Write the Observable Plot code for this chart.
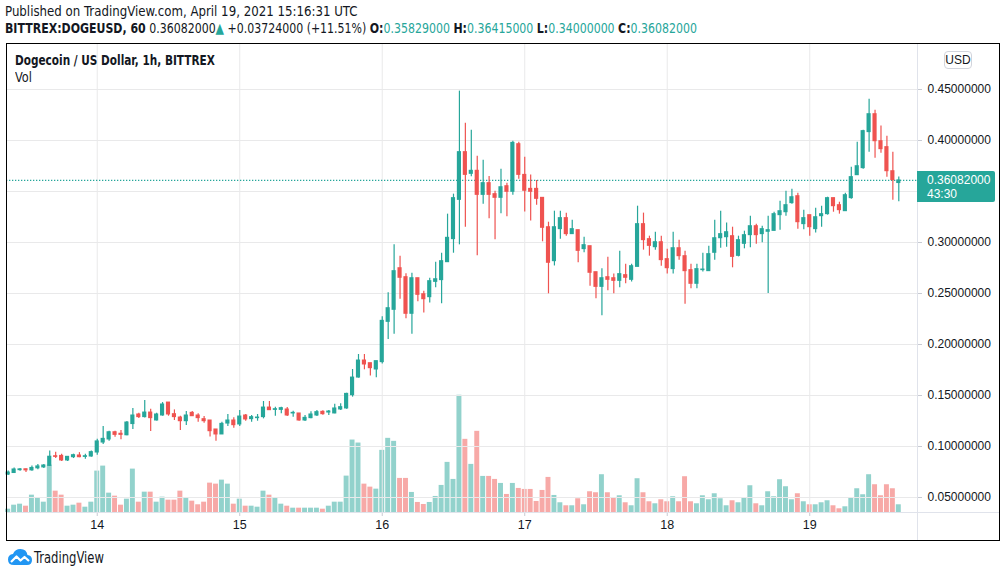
<!DOCTYPE html>
<html><head><meta charset="utf-8">
<script src="https://cdn.jsdelivr.net/npm/d3@7"></script>
<script src="https://cdn.jsdelivr.net/npm/@observablehq/plot@0.6"></script>
<style>
html,body{margin:0;padding:0;background:#fff;}
body{width:1006px;height:577px;overflow:hidden;position:relative;color:#131722;
 font-family:"DejaVu Sans Condensed","Liberation Sans",sans-serif;}
.abs{position:absolute;}
.layer{position:absolute;left:0;top:0;}
.sq{transform-origin:0 0;}
#hdr1{left:5px;top:3px;font-size:14.5px;white-space:nowrap;transform:scaleX(0.905);}
#hdr2{left:5px;top:20px;font-size:14.5px;white-space:nowrap;transform:scaleX(0.842);}
#hdr2 b{font-weight:bold;}
#hdr2 .v{color:#26a69a;}
#frame{left:6px;top:43px;width:992px;height:496px;border:1.5px solid #000;box-sizing:content-box;}
#vsep{left:917px;top:44px;width:1px;height:496px;background:#e0e3eb;}
#hsep{left:7px;top:512px;width:992px;height:1px;background:#e0e3eb;}
#title{left:15px;top:52px;font-size:14px;font-weight:bold;white-space:nowrap;transform:scaleX(0.835);}
#vol{left:15px;top:69px;font-size:14px;white-space:nowrap;transform:scaleX(0.9);}
#usd{left:944px;top:51px;width:26px;height:16px;border:1px solid #d1d4dc;border-radius:4px;font-size:12px;line-height:16px;text-align:center;font-family:"Liberation Sans",sans-serif;}
#last{left:917px;width:78px;height:31px;background:#26a69a;color:#fff;border-radius:0 2px 2px 0;font-size:12px;font-family:"Liberation Sans",sans-serif;}
#last div{position:absolute;left:10px;}
#logo{left:7px;top:548px;}
#logotxt{left:34px;top:549px;font-size:15px;white-space:nowrap;transform:scaleX(0.86);}
</style></head><body>
<div id="chart"></div>
<script>
// ---- data (hourly candles, BITTREX DOGE/USD, from 2021-04-13 09:00 UTC) ----
const startHour = "2021-04-13T09:00:00Z";
const open = [0.0725,0.0740,0.0768,0.0777,0.0766,0.0786,0.0795,0.0810,0.0905,0.0908,
0.0863,0.0895,0.0912,0.0898,0.0902,0.0941,0.1039,0.1069,0.1140,0.1125,
0.1110,0.1220,0.1314,0.1288,0.1333,0.1255,0.1304,0.1431,0.1317,0.1284,
0.1248,0.1330,0.1304,0.1268,0.1255,0.1167,0.1118,0.1225,0.1255,0.1216,
0.1304,0.1268,0.1278,0.1288,0.1382,0.1359,0.1359,0.1363,0.1324,0.1324,
0.1255,0.1278,0.1304,0.1340,0.1333,0.1324,0.1363,0.1373,0.1503,0.1676,
0.1843,0.1817,0.1755,0.1827,0.2222,0.2340,0.2748,0.2660,0.2301,0.2650,
0.2493,0.2464,0.2614,0.2631,0.2807,0.3033,0.3418,0.3886,0.3673,0.3703,
0.3467,0.3582,0.3474,0.3438,0.3552,0.3497,0.3964,0.3663,0.3526,0.3526,
0.3438,0.3150,0.2817,0.3131,0.3239,0.3082,0.3121,0.2935,0.2964,0.2709,
0.2565,0.2660,0.2650,0.2624,0.2680,0.2634,0.2761,0.3180,0.3033,0.2954,
0.3003,0.2837,0.2739,0.2944,0.2866,0.2729,0.2595,0.2729,0.2719,0.2899,
0.3042,0.3052,0.3062,0.2869,0.2987,0.3072,0.3160,0.3082,0.3105,0.3114,
0.3268,0.3297,0.3386,0.3454,0.3180,0.3268,0.3131,0.3258,0.3278,0.3435,
0.3366,0.3307,0.3435,0.3660,0.3729,0.4082,0.4258,0.3993,0.3935,0.3699,
0.35829];
const high = [0.0760,0.0790,0.0785,0.0779,0.0810,0.0823,0.0823,0.0955,0.0944,0.0925,
0.0900,0.0925,0.0940,0.0925,0.0955,0.1070,0.1196,0.1150,0.1150,0.1157,
0.1245,0.1373,0.1327,0.1451,0.1366,0.1327,0.1431,0.1431,0.1359,0.1297,
0.1343,0.1343,0.1320,0.1294,0.1255,0.1167,0.1239,0.1314,0.1281,0.1353,
0.1314,0.1304,0.1314,0.1441,0.1441,0.1386,0.1386,0.1382,0.1346,0.1324,
0.1304,0.1340,0.1353,0.1350,0.1353,0.1415,0.1418,0.1523,0.1755,0.1902,
0.1902,0.1817,0.1837,0.2271,0.2507,0.2977,0.2866,0.2693,0.2699,0.2650,
0.2523,0.2650,0.2807,0.2895,0.3278,0.3474,0.4484,0.4170,0.4101,0.3846,
0.3807,0.3647,0.3503,0.3719,0.3582,0.3993,0.3984,0.3837,0.3663,0.3608,
0.3438,0.3199,0.3307,0.3307,0.3288,0.3219,0.3121,0.3052,0.2964,0.2709,
0.2742,0.2856,0.2690,0.2915,0.2788,0.2788,0.3356,0.3288,0.3062,0.3101,
0.3062,0.2935,0.3101,0.3023,0.2915,0.2788,0.2788,0.2895,0.2964,0.3219,
0.3307,0.3190,0.3150,0.3062,0.3111,0.3258,0.3180,0.3160,0.3258,0.3297,
0.3405,0.3503,0.3523,0.3484,0.3317,0.3268,0.3337,0.3356,0.3444,0.3435,
0.3395,0.3484,0.3739,0.3984,0.4101,0.4405,0.4297,0.4141,0.4042,0.3886,
0.36415];
const low = [0.0715,0.0735,0.0758,0.0745,0.0758,0.0772,0.0784,0.0804,0.0882,0.0853,
0.0853,0.0882,0.0890,0.0876,0.0895,0.0915,0.1020,0.1052,0.1090,0.1066,
0.1105,0.1167,0.1275,0.1280,0.1147,0.1250,0.1297,0.1297,0.1255,0.1157,
0.1206,0.1294,0.1239,0.1229,0.1092,0.1052,0.1118,0.1196,0.1180,0.1196,
0.1248,0.1239,0.1248,0.1271,0.1356,0.1297,0.1320,0.1294,0.1288,0.1248,
0.1245,0.1271,0.1294,0.1307,0.1304,0.1320,0.1353,0.1366,0.1484,0.1670,
0.1752,0.1690,0.1673,0.1810,0.2050,0.2101,0.2444,0.2252,0.2101,0.2418,
0.2310,0.2408,0.2556,0.2399,0.2807,0.2895,0.2977,0.3150,0.3644,0.2869,
0.3376,0.3232,0.3026,0.3281,0.3252,0.3464,0.3621,0.3300,0.3212,0.3366,
0.3007,0.2497,0.2770,0.3033,0.3062,0.3082,0.2801,0.2899,0.2572,0.2448,
0.2281,0.2526,0.2497,0.2556,0.2595,0.2614,0.2761,0.2925,0.2866,0.2925,
0.2768,0.2690,0.2690,0.2827,0.2395,0.2546,0.2546,0.2712,0.2719,0.2827,
0.2944,0.2954,0.2752,0.2859,0.2938,0.2948,0.2984,0.2997,0.2500,0.3114,
0.3121,0.3258,0.3376,0.3131,0.3124,0.3062,0.3092,0.3150,0.3268,0.3297,
0.3278,0.3307,0.3425,0.3660,0.3719,0.3886,0.3827,0.3876,0.3640,0.3415,
0.3400];
const close = [0.0745,0.0775,0.0776,0.0766,0.0790,0.0805,0.0814,0.0900,0.0898,0.0863,
0.0899,0.0915,0.0895,0.0905,0.0945,0.1050,0.1075,0.1140,0.1114,0.1114,
0.1235,0.1304,0.1288,0.1333,0.1278,0.1314,0.1412,0.1314,0.1288,0.1248,
0.1304,0.1297,0.1278,0.1248,0.1150,0.1118,0.1222,0.1255,0.1209,0.1294,
0.1265,0.1288,0.1284,0.1382,0.1356,0.1366,0.1376,0.1304,0.1330,0.1255,
0.1281,0.1314,0.1337,0.1317,0.1343,0.1373,0.1386,0.1516,0.1676,0.1843,
0.1804,0.1768,0.1837,0.2232,0.2356,0.2719,0.2654,0.2301,0.2650,0.2487,
0.2444,0.2621,0.2640,0.2817,0.3046,0.3435,0.3886,0.3663,0.3703,0.3467,
0.3582,0.3467,0.3438,0.3542,0.3497,0.3977,0.3663,0.3507,0.3497,0.3428,
0.3144,0.2801,0.3150,0.3239,0.3082,0.3131,0.2918,0.2974,0.2703,0.2565,
0.2650,0.2634,0.2624,0.2690,0.2654,0.2768,0.3180,0.3023,0.2967,0.3003,
0.2827,0.2748,0.2944,0.2866,0.2719,0.2595,0.2739,0.2735,0.2886,0.3042,
0.3082,0.3101,0.2859,0.3023,0.3072,0.3160,0.3072,0.3131,0.3121,0.3278,
0.3307,0.3366,0.3444,0.3199,0.3239,0.3150,0.3248,0.3278,0.3435,0.3356,
0.3317,0.3464,0.3641,0.3748,0.4092,0.4258,0.3993,0.3915,0.3699,0.3611,
0.36082];
const volume = [3.3,7.3,8.3,6.3,17.3,14.3,10.3,47.3,21.3,17.3,
6.3,7.3,9.3,5.3,10.3,41.3,46.3,19.3,16.3,7.3,
13.3,43.3,10.3,20.3,20.3,10.3,15.3,12.3,12.3,21.3,
14.3,11.3,7.7,10.3,29.3,28.3,32.3,28.3,8.3,13.3,
6.3,6.3,5.3,21.3,17.3,14.3,8.3,6.3,4.3,4.3,
4.3,4.3,4.3,3.3,6.3,10.3,10.3,36.3,72.3,69.3,
28.3,25.3,23.3,62,74,71,34,34,20,10,
8,10,16,27,50,33,117,73,48,81,
36,36,33,29,18,29,24,23,23,11,
22,35,17,9.7,6.7,6.7,13.7,7.7,20.7,19.7,
37.7,19.7,14.7,16.7,9.7,6.7,33.7,19.7,10.7,8.7,
12.7,10.7,15.7,10.7,35.7,10.7,8.7,16.7,12.7,18.7,
13.7,6.7,11.7,9.7,14.7,26.7,8.7,6.7,20.7,15.7,
32.7,25.7,12.7,18.7,10.7,7.7,7.7,9.7,11.7,6.7,
3.7,5.7,14.7,23.7,17.7,37.7,27.7,16.7,27.7,23.7,
7.7];
const priceGrid = [0.05,0.10,0.15,0.20,0.25,0.30,0.35,0.40,0.45];
const priceLabels = [0.05,0.10,0.15,0.20,0.25,0.30,0.40,0.45];
const dayTicks = ["2021-04-14","2021-04-15","2021-04-16","2021-04-17","2021-04-18","2021-04-19"];
const xDomain = ["2021-04-13T08:43:00Z","2021-04-19T18:09:00Z"];
const yDomain = [0.0353,0.4951];
const countdown = "43:30";

// ---- build ----
const UP = "#26a69a", DOWN = "#ef5350";
const UPV = "rgba(38,166,154,0.5)", DOWNV = "rgba(239,83,80,0.5)";
const t0 = new Date(startHour);
const rows = open.map((o,i)=>({t:d3.utcHour.offset(t0,i),o,h:high[i],l:low[i],c:close[i],v:volume[i]}));
const days = dayTicks.map(d=>new Date(d+"T00:00:00Z"));
const xd = xDomain.map(d=>new Date(d));
const shift = (d,m)=>new Date(+d + m*60000);
const col = d=>d.c>=d.o?UP:DOWN;
const common = {width:1006,height:577,marginTop:43,marginBottom:65,marginLeft:6,marginRight:89,
  style:{background:"transparent",overflow:"visible",fontFamily:"'Liberation Sans',Arial,sans-serif"}};

const volPlot = Plot.plot({...common,
  x:{type:"utc",domain:xd,axis:null},
  y:{domain:[0,d3.max(volume)*4],axis:null},
  marks:[
    Plot.rect(rows,{x1:d=>shift(d.t,-25),x2:d=>shift(d.t,25),y1:0,y2:"v",fill:d=>d.c>=d.o?UPV:DOWNV})
  ]});

const pricePlot = Plot.plot({...common,
  x:{type:"utc",domain:xd,axis:null},
  y:{domain:yDomain,axis:null},
  marks:[
    Plot.gridY(priceGrid,{stroke:"#e9e9ea",strokeOpacity:1}),
    Plot.gridX(days,{stroke:"#e9e9ea",strokeOpacity:1}),
    Plot.axisY(priceLabels,{anchor:"right",label:null,tickFormat:d3.format(".8f"),tickSize:4,tickPadding:6,
      fontSize:12,stroke:"#c8cbd3",fill:"#131722"}),
    Plot.axisX(days,{anchor:"bottom",label:null,tickFormat:d3.utcFormat("%-d"),tickSize:4,tickPadding:4,
      fontSize:12.5,stroke:"#c8cbd3",fill:"#131722"}),
    Plot.ruleY([close[close.length-1]],{stroke:UP,strokeDasharray:"1.3,1.7",strokeWidth:1.2}),
    Plot.ruleX(rows,{x:"t",y1:"l",y2:"h",stroke:col,strokeWidth:1.2}),
    Plot.rect(rows,{x1:d=>shift(d.t,-21),x2:d=>shift(d.t,21),y1:"o",y2:"c",fill:col,insetTop:-0.5,insetBottom:-0.5})
  ]});

const chart = document.getElementById("chart");
volPlot.classList.add("layer"); pricePlot.classList.add("layer");
chart.appendChild(volPlot); chart.appendChild(pricePlot);

const fmt = d3.format(".8f");
const last = rows[rows.length-1], prevClose = 0.32358;
const html = (tag,id,inner,cls="")=>{const e=document.createElement(tag);e.id=id;e.className="abs "+cls;e.innerHTML=inner;document.body.appendChild(e);return e;};
html("div","hdr1","Published on TradingView.com, April 19, 2021 15:16:31 UTC","sq");
html("div","hdr2",`<b>BITTREX:DOGEUSD, 60</b> ${fmt(last.c)}<span class="v">&#9650;</span> +${fmt(last.c-prevClose)} (+${d3.format(".2f")((last.c-prevClose)/prevClose*100)}%) <b>O:</b><span class="v">${fmt(last.o)}</span> <b>H:</b><span class="v">${fmt(last.h)}</span> <b>L:</b><span class="v">${fmt(last.l)}</span> <b>C:</b><span class="v">${fmt(last.c)}</span>`,"sq");
html("div","frame","");
html("div","vsep","");
html("div","hsep","");
html("div","title","Dogecoin / US Dollar, 1h, BITTREX","sq");
html("div","vol","Vol","sq");
html("div","usd","USD");
const yLast = pricePlot.scale("y").apply(last.c);
const lb = html("div","last",`<div style="top:2px">${fmt(last.c)}</div><div style="top:16px">${countdown}</div>`);
lb.style.top = (yLast-8.6)+"px";
html("div","logo",`<svg width="26" height="18" viewBox="0 0 26 18"><path d="M7 17 Q1 17 1 11.5 Q1 6.5 6 6 Q8 1 13.5 1 Q19.5 1 20.5 7 Q25 7.5 25 12 Q25 17 20 17 Z" fill="#2196f3"/><path d="M4 14 L9.5 8.5 L13.5 12.5 L17.5 9 L22 13" fill="none" stroke="#fff" stroke-width="2.2" stroke-linejoin="round"/></svg>`);
html("div","logotxt","TradingView","sq");
</script>
</body></html>
